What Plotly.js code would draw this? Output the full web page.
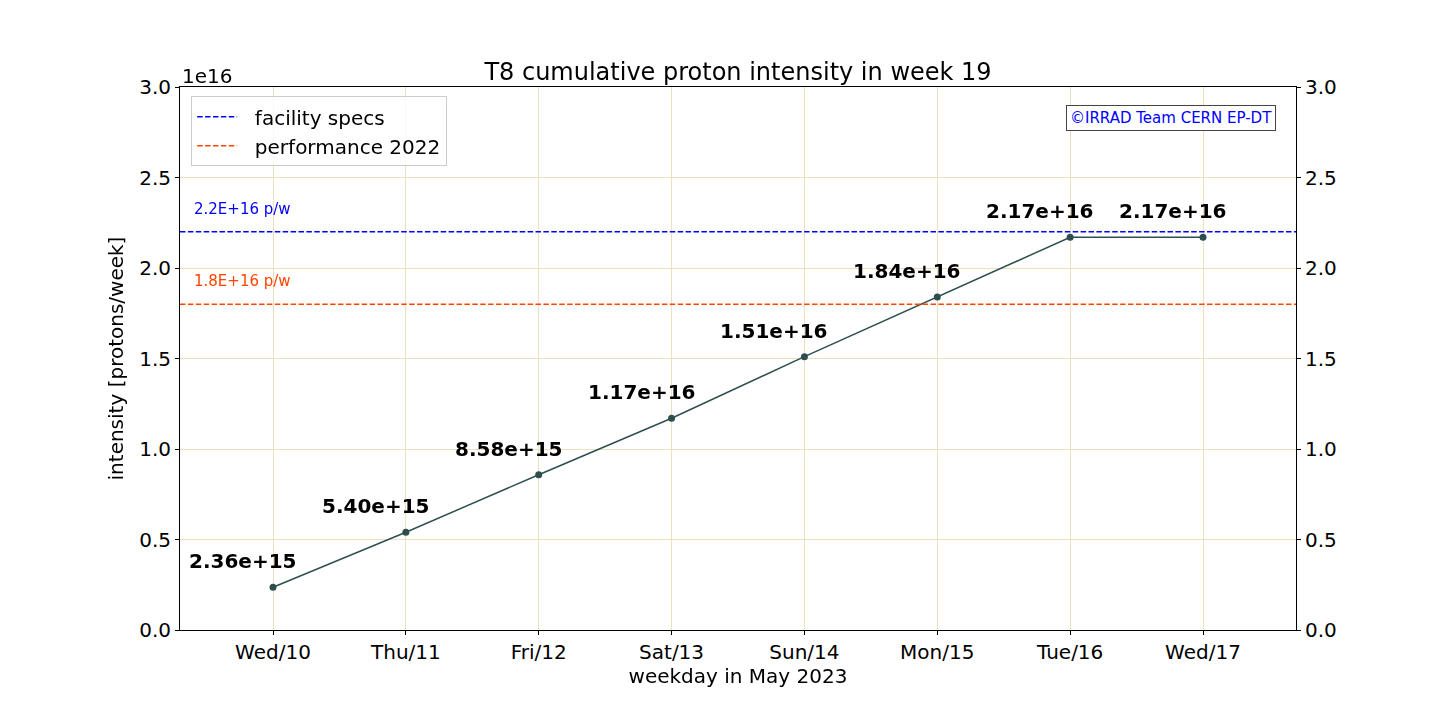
<!DOCTYPE html>
<html><head><meta charset="utf-8">
<script src="https://cdn.plot.ly/plotly-3.0.1.min.js"></script>
<style>html,body{margin:0;padding:0;background:#fff}#plot{width:1440px;height:720px}</style>
</head><body><div id="plot"></div>
<script>
const days = ["Wed/10","Thu/11","Fri/12","Sat/13","Sun/14","Mon/15","Tue/16","Wed/17"];
const intensity = [2.36e15, 5.40e15, 8.58e15, 1.17e16, 1.51e16, 1.84e16, 2.17e16, 2.17e16];
const facilitySpec = 2.2e16;
const performance2022 = 1.8e16;
const yTickVals = [0, 0.5e16, 1.0e16, 1.5e16, 2.0e16, 2.5e16, 3.0e16];
const yTickText = ["0.0","0.5","1.0","1.5","2.0","2.5","3.0"];

const xIdx = days.map((d,i)=>i);
const font = "DejaVu Sans, Verdana, sans-serif";
const gridC = "#eddfc0";
const dashPat = "5.5px,2.4px";
const pad = "\u00a0\u00a0";

const traces = [
  {x: xIdx, y: intensity, mode: "lines+markers", line:{color:"#2f4f4f", width:1.5},
   marker:{color:"#2f4f4f", size:7}, showlegend:false, hoverinfo:"skip"},
  {x: [-0.7, 7.7], y: [facilitySpec, facilitySpec], mode:"lines", name:pad+"facility specs",
   line:{color:"blue", width:1.5, dash:dashPat}},
  {x: [-0.7, 7.7], y: [performance2022, performance2022], mode:"lines", name:pad+"performance 2022",
   line:{color:"orangered", width:1.5, dash:dashPat}},
  {x: xIdx, y: intensity, yaxis:"y2", mode:"markers", opacity:0, showlegend:false, hoverinfo:"skip"}
];

const annotations = intensity.map((v,i)=>({
  x:i, y:v, xref:"x", yref:"y", text:v.toExponential(2), showarrow:false,
  xshift:-30, yshift:26, font:{family:font, size:20, color:"black", weight:"bold"}
}));
annotations.push(
  {xref:"paper", yref:"y", x:0.0105, y:facilitySpec, yshift:23, text:"2.2E+16 p/w", showarrow:false,
   xanchor:"left", font:{family:font, size:15, color:"blue"}},
  {xref:"paper", yref:"y", x:0.0105, y:performance2022, yshift:23, text:"1.8E+16 p/w", showarrow:false,
   xanchor:"left", font:{family:font, size:15, color:"orangered"}},
  {xref:"paper", yref:"paper", x:0.9825, y:0.942, text:"©IRRAD Team CERN EP-DT", showarrow:false,
   xanchor:"right", yanchor:"middle", bordercolor:"#444", borderwidth:1, borderpad:3, bgcolor:"white",
   font:{family:font, size:15, color:"blue"}},
  {xref:"paper", yref:"paper", x:0, y:1, yanchor:"bottom", xanchor:"left", yshift:-3, text:"1e16", showarrow:false,
   font:{family:font, size:20, color:"black"}}
);

const layout = {
  width:1440, height:720,
  margin:{l:180, r:144, t:87, b:90},
  paper_bgcolor:"white", plot_bgcolor:"white",
  font:{family:font, size:20, color:"black"},
  title:{text:"T8 cumulative proton intensity in week 19", x:0.5125, xanchor:"center", y:0.9, yanchor:"middle",
         font:{family:font, size:24, color:"black"}},
  xaxis:{range:[-0.7,7.7], tickvals:xIdx, ticktext:days, showgrid:true, gridcolor:gridC, gridwidth:1,
         zeroline:false, showline:true, mirror:true, linecolor:"black", linewidth:1,
         ticks:"outside", ticklen:4, tickcolor:"black", tickfont:{size:20},
         title:{text:"weekday in May 2023", font:{size:20}, standoff:2}},
  yaxis:{range:[0,3e16], tickvals:yTickVals, ticktext:yTickText, showgrid:true, gridcolor:gridC, gridwidth:1,
         zeroline:false, showline:true, linecolor:"black", linewidth:1,
         ticks:"outside", ticklen:4, tickcolor:"black", tickfont:{size:20},
         title:{text:"intensity [protons/week]", font:{size:20}, standoff:10}},
  yaxis2:{range:[0,3e16], tickvals:yTickVals, ticktext:yTickText, overlaying:"y", side:"right",
          showgrid:false, zeroline:false, showline:true, linecolor:"black", linewidth:1,
          ticks:"outside", ticklen:4, tickcolor:"black", tickfont:{size:20}},
  legend:{x:0.01, y:0.983, xanchor:"left", yanchor:"top", bgcolor:"rgba(255,255,255,0.8)",
          bordercolor:"#cccccc", borderwidth:1, font:{size:20}, itemwidth:40, tracegroupgap:0},
  annotations: annotations,
  showlegend:true
};
Plotly.newPlot("plot", traces, layout, {displayModeBar:false, staticPlot:true});
</script></body></html>
